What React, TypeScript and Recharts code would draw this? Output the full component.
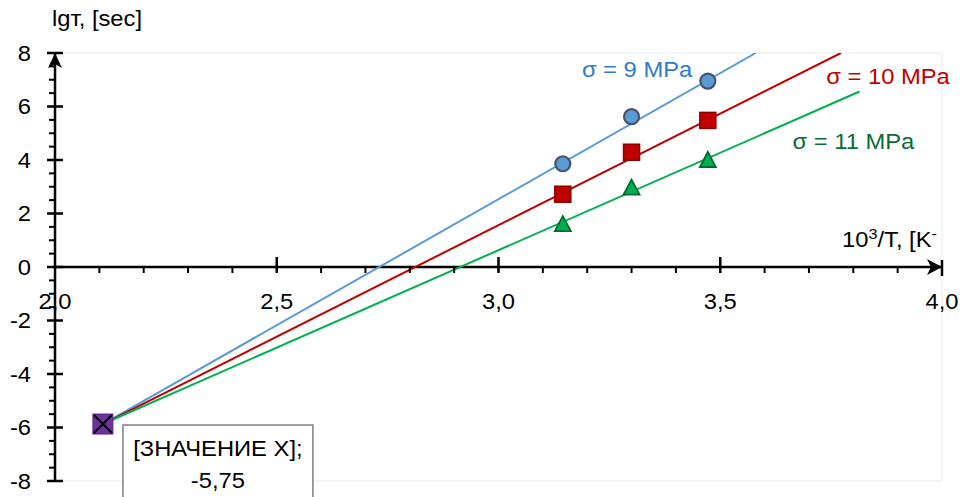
import React from "react";
import {
  ComposedChart,
  XAxis,
  YAxis,
  CartesianGrid,
  Line,
  Scatter,
  ReferenceLine,
  ReferenceDot,
} from "recharts";

// ---------- data ----------
const INV_T = [3.145, 3.3, 3.472];
const LG_TAU_9 = [3.86, 5.62, 6.95];
const LG_TAU_10 = [2.72, 4.29, 5.48];
const LG_TAU_11 = [1.6, 2.97, 4.0];

const SERIES_NAMES = ["σ = 9 MPa", "σ = 10 MPa", "σ = 11 MPa"];

const CROSS_X = 2.108;
const CROSS_Y = -5.87;
const CROSS_LABEL = ["[ЗНАЧЕНИЕ X];", "-5,75"];

const TREND_9_END = [3.58, 8.0];
const TREND_10_END = [3.772, 8.0];
const TREND_11_END = [3.814, 6.56];

const X_TICK_VALUES = [2.0, 2.5, 3.0, 3.5, 4.0];
const X_TICK_LABELS = ["2,0", "2,5", "3,0", "3,5", "4,0"];
const Y_TICK_VALUES = [8, 6, 4, 2, 0, -2, -4, -6, -8];
const Y_TICK_LABELS = ["8", "6", "4", "2", "0", "-2", "-4", "-6", "-8"];

const X_GRID = [2.0, 2.1, 2.2, 2.3, 2.4, 2.5, 2.6, 2.7, 2.8, 2.9, 3.0, 3.1, 3.2, 3.3, 3.4, 3.5, 3.6, 3.7, 3.8, 3.9, 4.0];
const Y_GRID = [-8, -7.5, -7, -6.5, -6, -5.5, -5, -4.5, -4, -3.5, -3, -2.5, -2, -1.5, -1, -0.5, 0, 0.5, 1, 1.5, 2, 2.5, 3, 3.5, 4, 4.5, 5, 5.5, 6, 6.5, 7, 7.5, 8];
const X_MINOR = [2.1, 2.2, 2.3, 2.4, 2.6, 2.7, 2.8, 2.9, 3.1, 3.2, 3.3, 3.4, 3.6, 3.7, 3.8, 3.9];
const X_MAJOR = [2.5, 3.0, 3.5];
const Y_MINOR = [-7.5, -7, -6.5, -5.5, -5, -4.5, -3.5, -3, -2.5, -1.5, -1, -0.5, 0.5, 1, 1.5, 2.5, 3, 3.5, 4.5, 5, 5.5, 6.5, 7, 7.5];
const Y_MAJOR = [-8, -6, -4, -2, 0, 2, 4, 6, 8];

const X_TITLE = ["10", "3", "/T, [K", "-"];
const Y_TITLE = "lgт, [sec]";

// ---------- derived tables ----------
const pts = (ys: number[]) => INV_T.map((x, i) => ({ x, y: ys[i] }));
const data9 = pts(LG_TAU_9);
const data10 = pts(LG_TAU_10);
const data11 = pts(LG_TAU_11);
const trend = (end: number[]) => [
  { x: CROSS_X, y: CROSS_Y },
  { x: end[0], y: end[1] },
];
const crossData = [{ x: CROSS_X, y: CROSS_Y }];

// ---------- styling ----------
const FONT = "'Liberation Sans', Arial, Helvetica, sans-serif";
const SX = 1.08;
const FS = 22;
const BLUE_LINE = "#5B9BD5";
const BLUE_TEXT = "#2E7BCB";
const RED = "#C00000";
const GREEN_LINE = "#00B050";
const GREEN_TEXT = "#0B6B35";

const T = ({ x, y, anchor = "start", fill = "#000", size = FS, children }: any) => (
  <text
    transform={`translate(${x},${y}) scale(${SX},1)`}
    x={0}
    y={0}
    textAnchor={anchor}
    fontFamily={FONT}
    fontSize={size}
    fill={fill}
  >
    {children}
  </text>
);

const circleShape = (p: any) => (
  <circle cx={p.cx} cy={p.cy} r={7.5} fill="#5B9BD5" stroke="#44546A" strokeWidth={2.2} />
);
const squareShape = (p: any) => (
  <rect x={p.cx - 8} y={p.cy - 8} width={16} height={16} fill={RED} stroke="#8B0000" strokeWidth={1.5} />
);
const triangleShape = (p: any) => (
  <polygon
    points={`${p.cx},${p.cy - 8} ${p.cx + 8},${p.cy + 7} ${p.cx - 8},${p.cy + 7}`}
    fill={GREEN_LINE}
    stroke="#006B30"
    strokeWidth={1.8}
  />
);
const crossShape = (p: any) => (
  <g>
    <rect x={p.cx - 10} y={p.cy - 10} width={20} height={20} fill="#7030A0" stroke="#5A2582" strokeWidth={1} />
    <line x1={p.cx - 9} y1={p.cy - 9} x2={p.cx + 9} y2={p.cy + 9} stroke="#000" strokeWidth={2} />
    <line x1={p.cx + 9} y1={p.cy - 9} x2={p.cx - 9} y2={p.cy + 9} stroke="#000" strokeWidth={2} />
  </g>
);

export default function App() {
  return (
    <div style={{ position: "absolute", left: 0, top: 0, width: 964, height: 497, background: "#fff" }}>
      <ComposedChart
        width={964}
        height={497}
        margin={{ top: 53, right: 22, bottom: 16, left: 55 }}
      >
        <CartesianGrid stroke="#ebebeb" strokeWidth={1} />
        <XAxis
          type="number"
          dataKey="x"
          domain={[2, 4]}
          ticks={X_GRID}
          allowDataOverflow
          height={0}
          tick={false}
          tickLine={false}
          axisLine={false}
        />
        <YAxis
          type="number"
          dataKey="y"
          domain={[-8, 8]}
          ticks={Y_GRID}
          allowDataOverflow
          width={0}
          tick={false}
          tickLine={false}
          axisLine={false}
        />

        {/* axes crossing at x=2, y=0 */}
        <ReferenceLine y={0} stroke="#000" strokeWidth={2.5} />
        <ReferenceLine x={2} stroke="#000" strokeWidth={2.5} />

        {X_MINOR.map((v) => (
          <ReferenceDot
            key={"xm" + v}
            x={v}
            y={0}
            r={0}
            shape={(p: any) => <line x1={p.cx} y1={p.cy} x2={p.cx} y2={p.cy + 6} stroke="#000" strokeWidth={2} />}
          />
        ))}
        {X_MAJOR.map((v) => (
          <ReferenceDot
            key={"xM" + v}
            x={v}
            y={0}
            r={0}
            shape={(p: any) => <line x1={p.cx} y1={p.cy - 10} x2={p.cx} y2={p.cy + 6} stroke="#000" strokeWidth={2.5} />}
          />
        ))}
        {Y_MINOR.map((v) => (
          <ReferenceDot
            key={"ym" + v}
            x={2}
            y={v}
            r={0}
            shape={(p: any) => <line x1={p.cx - 6} y1={p.cy} x2={p.cx} y2={p.cy} stroke="#000" strokeWidth={2} />}
          />
        ))}
        {Y_MAJOR.map((v) => (
          <ReferenceDot
            key={"yM" + v}
            x={2}
            y={v}
            r={0}
            shape={(p: any) => <line x1={p.cx - 8} y1={p.cy} x2={p.cx + 8} y2={p.cy} stroke="#000" strokeWidth={2.5} />}
          />
        ))}

        {/* arrow heads */}
        <ReferenceDot
          x={4}
          y={0}
          r={0}
          shape={(p: any) => (
            <g>
              <polygon
                points={`${p.cx},${p.cy} ${p.cx - 15},${p.cy - 8} ${p.cx - 11},${p.cy} ${p.cx - 15},${p.cy + 8}`}
                fill="#000"
              />
              <line x1={p.cx} y1={p.cy - 7} x2={p.cx} y2={p.cy + 9} stroke="#000" strokeWidth={2.5} />
            </g>
          )}
        />
        <ReferenceDot
          x={2}
          y={8}
          r={0}
          shape={(p: any) => (
            <polygon
              points={`${p.cx},${p.cy} ${p.cx + 7},${p.cy + 15} ${p.cx},${p.cy + 11} ${p.cx - 7},${p.cy + 15}`}
              fill="#000"
            />
          )}
        />

        {/* tick labels */}
        {X_TICK_VALUES.map((v, i) => (
          <ReferenceDot
            key={"xl" + v}
            x={v}
            y={0}
            r={0}
            ifOverflow="visible"
            shape={(p: any) => (
              <T x={p.cx} y={p.cy + 42} anchor="middle">
                {X_TICK_LABELS[i]}
              </T>
            )}
          />
        ))}
        {Y_TICK_VALUES.map((v, i) => (
          <ReferenceDot
            key={"yl" + v}
            x={2}
            y={v}
            r={0}
            ifOverflow="visible"
            shape={(p: any) => (
              <T x={p.cx - 24} y={p.cy + 7.5} anchor="end">
                {Y_TICK_LABELS[i]}
              </T>
            )}
          />
        ))}

        {/* axis titles */}
        <ReferenceDot
          x={2}
          y={8}
          r={0}
          ifOverflow="visible"
          shape={(p: any) => <T x={p.cx - 3} y={p.cy - 27}>{Y_TITLE}</T>}
        />
        <ReferenceDot
          x={4}
          y={0}
          r={0}
          ifOverflow="visible"
          shape={(p: any) => (
            <text
              transform={`translate(${p.cx - 100},${p.cy - 20}) scale(${SX},1)`}
              fontFamily={FONT}
              fontSize={FS}
              fill="#000"
            >
              {X_TITLE[0]}
              <tspan dy={-8} fontSize={15}>{X_TITLE[1]}</tspan>
              <tspan dy={8}>{X_TITLE[2]}</tspan>
              <tspan dy={-8} fontSize={15}>{X_TITLE[3]}</tspan>
            </text>
          )}
        />

        {/* trend lines */}
        <Line data={trend(TREND_9_END)} dataKey="y" type="linear" stroke={BLUE_LINE} strokeWidth={2} dot={false} isAnimationActive={false} />
        <Line data={trend(TREND_10_END)} dataKey="y" type="linear" stroke={RED} strokeWidth={2} dot={false} isAnimationActive={false} />
        <Line data={trend(TREND_11_END)} dataKey="y" type="linear" stroke={GREEN_LINE} strokeWidth={2} dot={false} isAnimationActive={false} />

        {/* measured points */}
        <Scatter data={data9} dataKey="y" shape={circleShape} isAnimationActive={false} />
        <Scatter data={data10} dataKey="y" shape={squareShape} isAnimationActive={false} />
        <Scatter data={data11} dataKey="y" shape={triangleShape} isAnimationActive={false} />
        <Scatter data={crossData} dataKey="y" shape={crossShape} isAnimationActive={false} />

        {/* series annotations */}
        <ReferenceDot
          x={3.188}
          y={7.1}
          r={0}
          shape={(p: any) => <T x={p.cx} y={p.cy} fill={BLUE_TEXT}>{SERIES_NAMES[0]}</T>}
        />
        <ReferenceDot
          x={3.739}
          y={6.85}
          r={0}
          ifOverflow="visible"
          shape={(p: any) => <T x={p.cx} y={p.cy} fill={RED}>{SERIES_NAMES[1]}</T>}
        />
        <ReferenceDot
          x={3.663}
          y={4.42}
          r={0}
          shape={(p: any) => <T x={p.cx} y={p.cy} fill={GREEN_TEXT}>{SERIES_NAMES[2]}</T>}
        />

        {/* label of the common point */}
        <ReferenceDot
          x={CROSS_X}
          y={CROSS_Y}
          r={0}
          ifOverflow="visible"
          shape={(p: any) => (
            <g>
              <rect x={p.cx + 20} y={p.cy + 1} width={190} height={100} fill="#fff" stroke="#7f7f7f" strokeWidth={1.5} />
              <T x={p.cx + 115} y={p.cy + 32} anchor="middle">{CROSS_LABEL[0]}</T>
              <T x={p.cx + 115} y={p.cy + 64} anchor="middle">{CROSS_LABEL[1]}</T>
            </g>
          )}
        />
      </ComposedChart>
    </div>
  );
}
